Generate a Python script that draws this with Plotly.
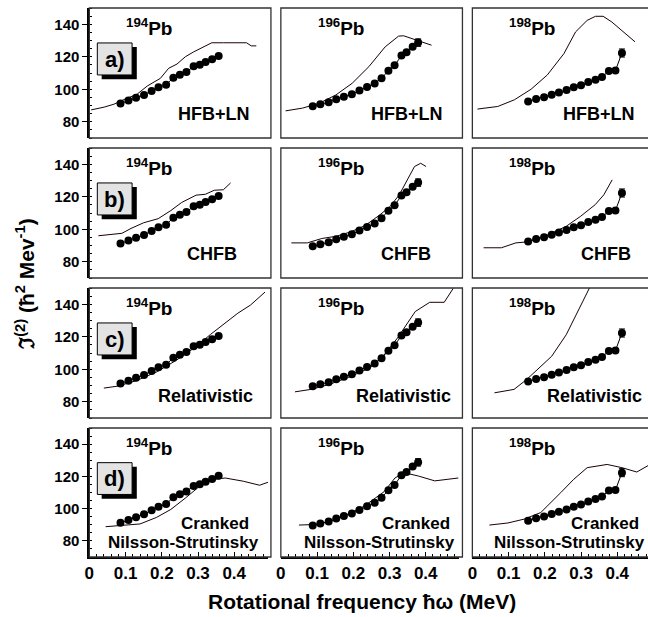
import plotly.graph_objects as go

# ---------------- data ----------------
nuclei = ["194", "196", "198"]
row_letters = ["a)", "b)", "c)", "d)"]
methods = ["HFB+LN", "CHFB", "Relativistic", "Cranked<br>Nilsson-Strutinsky"]

# experimental J(2)
exp194_x = [0.086, 0.108, 0.129, 0.151, 0.172, 0.191, 0.212, 0.232, 0.250, 0.268, 0.288, 0.305, 0.321, 0.339, 0.357]
exp194_y = [91.2, 93.0, 94.7, 96.5, 99.0, 101.2, 102.8, 107.1, 108.9, 110.6, 114.1, 115.1, 116.7, 118.4, 120.4]
exp194_e = [0] * 15
exp196_x = [0.088, 0.109, 0.132, 0.153, 0.174, 0.196, 0.217, 0.238, 0.259, 0.278, 0.297, 0.314, 0.333, 0.347, 0.364, 0.379]
exp196_y = [89.5, 90.8, 92.0, 93.8, 95.4, 97.0, 99.2, 101.4, 103.6, 106.8, 111.4, 114.7, 120.7, 122.7, 126.2, 128.7]
exp196_e = [0] * 14 + [1.0, 2.3]
exp198_x = [0.154, 0.176, 0.198, 0.219, 0.239, 0.260, 0.280, 0.300, 0.320, 0.340, 0.358, 0.377, 0.395, 0.413]
exp198_y = [92.5, 94.0, 95.1, 96.6, 98.0, 99.5, 101.2, 102.5, 104.4, 105.9, 107.5, 111.2, 111.5, 122.3]
exp198_e = [0] * 13 + [2.5]

# HFB+LN
hfb194_x = [0.005, 0.041, 0.068, 0.087, 0.132, 0.160, 0.196, 0.219, 0.242, 0.265, 0.288, 0.315, 0.338, 0.370, 0.434, 0.447, 0.461]
hfb194_y = [87.3, 89.0, 90.8, 92.8, 97.0, 102.0, 106.7, 112.9, 115.5, 120.0, 123.0, 126.1, 128.6, 128.6, 128.6, 126.7, 126.7]
hfb196_x = [0.013, 0.060, 0.106, 0.152, 0.197, 0.243, 0.288, 0.325, 0.339, 0.362, 0.389, 0.416]
hfb196_y = [86.7, 88.4, 91.4, 96.5, 103.7, 113.9, 126.1, 132.7, 132.9, 131.2, 129.2, 127.1]
hfb198_x = [0.014, 0.070, 0.116, 0.162, 0.207, 0.253, 0.285, 0.317, 0.340, 0.361, 0.385, 0.417, 0.449]
hfb198_y = [87.8, 89.4, 93.5, 100.0, 108.8, 122.0, 135.3, 142.4, 144.9, 144.9, 141.4, 135.3, 129.2]

# CHFB
chfb194_x = [0.025, 0.090, 0.115, 0.150, 0.190, 0.225, 0.255, 0.275, 0.295, 0.320, 0.345, 0.370, 0.390]
chfb194_y = [96.0, 97.5, 100.5, 104.0, 106.5, 111.5, 116.5, 118.5, 121.0, 121.5, 124.0, 124.3, 128.5]
chfb196_x = [0.029, 0.073, 0.113, 0.153, 0.193, 0.232, 0.272, 0.302, 0.327, 0.352, 0.369, 0.386, 0.401]
chfb196_y = [91.6, 91.6, 94.3, 95.7, 98.4, 102.2, 108.6, 114.1, 121.2, 131.4, 138.6, 140.6, 138.6]
chfb198_x = [0.031, 0.080, 0.120, 0.150, 0.200, 0.259, 0.299, 0.339, 0.363, 0.386]
chfb198_y = [88.6, 88.6, 91.6, 92.2, 95.7, 101.8, 108.0, 115.1, 121.2, 130.4]

# Relativistic
rel194_x = [0.040, 0.078, 0.130, 0.187, 0.240, 0.295, 0.335, 0.370, 0.410, 0.445, 0.485]
rel194_y = [88.4, 89.6, 93.0, 98.5, 105.5, 114.0, 121.5, 127.5, 134.5, 139.5, 147.5]
rel196_x = [0.039, 0.083, 0.133, 0.183, 0.222, 0.252, 0.282, 0.322, 0.371, 0.411, 0.451, 0.476]
rel196_y = [86.1, 87.6, 90.6, 94.7, 98.4, 101.8, 108.0, 119.2, 135.5, 141.2, 141.2, 149.8]
rel198_x = [0.061, 0.115, 0.150, 0.219, 0.259, 0.299, 0.330]
rel198_y = [85.5, 87.6, 93.7, 108.0, 121.2, 138.6, 153.0]

# Cranked Nilsson-Strutinsky
cns194_x = [0.045, 0.090, 0.140, 0.185, 0.225, 0.265, 0.305, 0.340, 0.375, 0.425, 0.470, 0.495]
cns194_y = [88.8, 89.5, 90.5, 94.5, 99.5, 106.5, 114.0, 118.0, 119.0, 117.0, 114.5, 116.5]
cns196_x = [0.050, 0.095, 0.135, 0.180, 0.230, 0.285, 0.315, 0.340, 0.380, 0.425, 0.490]
cns196_y = [89.8, 90.2, 92.0, 96.0, 101.5, 110.5, 119.0, 122.3, 120.2, 117.2, 119.0]
cns198_x = [0.047, 0.098, 0.143, 0.189, 0.244, 0.280, 0.317, 0.372, 0.413, 0.454, 0.486]
cns198_y = [89.8, 91.1, 93.5, 97.6, 109.9, 118.2, 125.4, 127.4, 125.4, 122.7, 126.8]

x_ticks = [0, 0.1, 0.2, 0.3, 0.4]
x_ticklabels = ["0", "0.1", "0.2", "0.3", "0.4"]
y_ticks = [80, 100, 120, 140]
y_ticklabels = ["80", "100", "120", "140"]

exp_sets = [(exp194_x, exp194_y, exp194_e), (exp196_x, exp196_y, exp196_e), (exp198_x, exp198_y, exp198_e)]
theory = [
    [(hfb194_x, hfb194_y), (hfb196_x, hfb196_y), (hfb198_x, hfb198_y)],
    [(chfb194_x, chfb194_y), (chfb196_x, chfb196_y), (chfb198_x, chfb198_y)],
    [(rel194_x, rel194_y), (rel196_x, rel196_y), (rel198_x, rel198_y)],
    [(cns194_x, cns194_y), (cns196_x, cns196_y), (cns198_x, cns198_y)],
]

# ---------------- layout geometry ----------------
W, H = 648, 617
col_px = [(85, 265), (278, 458), (471, 648)]
row_px = [(8, 138), (148, 278), (288, 418), (428, 557)]
XSCALE = 365.0  # px per MeV
FONT = "Arial, Liberation Sans, Helvetica, sans-serif"

def px2x(p):
    return p / W

def py2y(p):
    return 1 - p / H

def bfont(size):
    return dict(family=FONT, size=size, color="black", weight="bold")

fig = go.Figure()
layout = dict(
    width=W, height=H, margin=dict(l=0, r=0, t=0, b=0),
    paper_bgcolor="white", plot_bgcolor="white", showlegend=False,
    font=dict(family=FONT, color="black"),
)
shapes = []
annotations = []

method_pos = [
    [(0.450, 84.7), (0.452, 84.7), (0.454, 84.7)],
    [(0.414, 84.7), (0.421, 84.7), (0.443, 84.7)],
    [(0.458, 83.5), (0.476, 83.5), (0.473, 83.5)],
]
cranked_right = [0.445, 0.473, 0.465]
nilsson_center = [0.261, 0.272, 0.268]

for r in range(4):
    for c in range(3):
        i = r * 3 + c + 1
        xs = "" if i == 1 else str(i)
        xa, ya = "x" + xs, "y" + xs
        x0p, x1p = col_px[c]
        y0p, y1p = row_px[r]
        xr = [0, (x1p - x0p) / XSCALE]
        xaxis = dict(domain=[px2x(x0p), px2x(x1p)], range=xr, anchor=ya,
                     showgrid=False, zeroline=False, showline=False,
                     showticklabels=False, ticks="")
        yaxis = dict(domain=[py2y(y1p), py2y(y0p)], range=[70, 150], anchor=xa,
                     showgrid=False, zeroline=False, showline=False,
                     showticklabels=False, ticks="")
        if r == 3:
            xaxis.update(showline=True, linecolor="black", linewidth=2,
                         ticks="inside", ticklen=5, tickwidth=1, tickcolor="black",
                         tickvals=x_ticks, ticktext=x_ticklabels,
                         showticklabels=True, tickfont=bfont(17),
                         minor=dict(ticks="inside", ticklen=3, dtick=0.02, tick0=0, tickcolor="black"))
        if c == 0:
            yaxis.update(showline=True, linecolor="black", linewidth=2,
                         ticks="outside", ticklen=5, tickwidth=1, tickcolor="black",
                         tickvals=y_ticks, ticktext=y_ticklabels,
                         showticklabels=True, tickfont=bfont(15),
                         minor=dict(ticks="inside", ticklen=3, dtick=5, tick0=70, tickcolor="black"))
        layout["xaxis" + xs] = xaxis
        layout["yaxis" + xs] = yaxis

        # frame
        shapes.append(dict(type="rect", xref="paper", yref="paper",
                           x0=px2x(x0p), x1=px2x(x1p + 3), y0=py2y(y1p), y1=py2y(y0p),
                           line=dict(color="#333333", width=1.3), fillcolor="rgba(0,0,0,0)", layer="above"))

        tx, ty = theory[r][c]
        fig.add_trace(go.Scatter(x=tx, y=ty, mode="lines", xaxis=xa, yaxis=ya,
                                 line=dict(color="#1a0000", width=1), hoverinfo="skip"))
        ex, ey, ee = exp_sets[c]
        fig.add_trace(go.Scatter(x=ex, y=ey, mode="lines+markers", xaxis=xa, yaxis=ya,
                                 line=dict(color="black", width=1),
                                 marker=dict(color="black", size=8),
                                 error_y=dict(type="data", array=ee, visible=True,
                                              color="black", thickness=1, width=3)))

        # nucleus label
        annotations.append(dict(xref=xa, yref=ya, x=0.166, y=138.5, showarrow=False,
                                text="<b><sup>%s</sup>Pb</b>" % nuclei[c], font=bfont(19),
                                xanchor="center", yanchor="middle"))
        # method label
        if r < 3:
            mx, my = method_pos[r][c]
            annotations.append(dict(xref=xa, yref=ya, x=mx, y=my, showarrow=False,
                                    text="<b>%s</b>" % methods[r], font=bfont(18),
                                    xanchor="right", yanchor="middle"))
        else:
            annotations.append(dict(xref=xa, yref=ya, x=cranked_right[c], y=90.8, showarrow=False,
                                    text="<b>Cranked</b>", font=bfont(17),
                                    xanchor="right", yanchor="middle"))
            annotations.append(dict(xref=xa, yref=ya, x=nilsson_center[c], y=79.0, showarrow=False,
                                    text="<b>Nilsson-Strutinsky</b>", font=bfont(17),
                                    xanchor="center", yanchor="middle"))
        # row letter box
        if c == 0:
            shapes.append(dict(type="rect", xref=xa, yref=ya, x0=0.034, x1=0.131, y0=106.2, y1=126.0,
                               fillcolor="black", line=dict(width=0), layer="above"))
            shapes.append(dict(type="rect", xref=xa, yref=ya, x0=0.022, x1=0.118, y0=108.8, y1=128.5,
                               fillcolor="#e3e3e3", line=dict(color="black", width=1), layer="above"))
            annotations.append(dict(xref=xa, yref=ya, x=0.070, y=118.6, showarrow=False,
                                    text="<b>%s</b>" % row_letters[r], font=bfont(22),
                                    xanchor="center", yanchor="middle"))

# axis titles
annotations.append(dict(xref="paper", yref="paper", x=px2x(360), y=py2y(601), showarrow=False,
                        text="<b>Rotational frequency ħω (MeV)</b>", font=bfont(21),
                        xanchor="center", yanchor="middle"))
annotations.append(dict(xref="paper", yref="paper", x=px2x(20), y=py2y(283), showarrow=False,
                        text="<b>ℑ<sup>(2)</sup> (ħ<sup>2</sup> Mev<sup>-1</sup>)</b>",
                        font=bfont(21), textangle=-90,
                        xanchor="center", yanchor="middle"))

layout["shapes"] = shapes
layout["annotations"] = annotations
fig.update_layout(**layout)
fig.write_html("out.html")
